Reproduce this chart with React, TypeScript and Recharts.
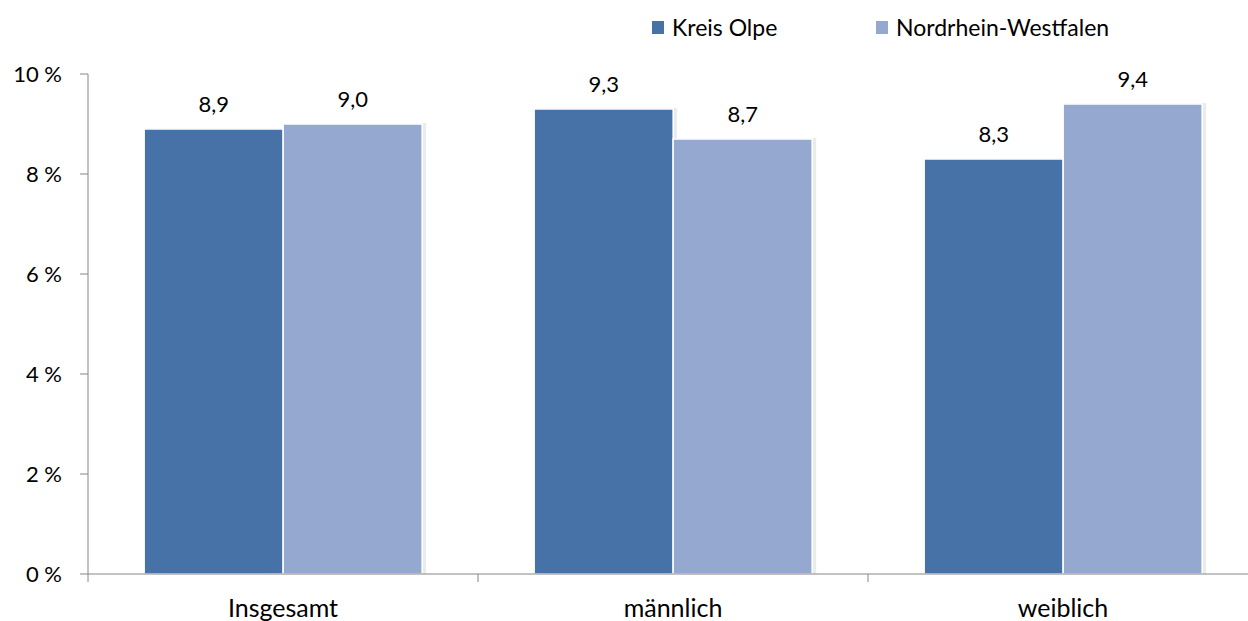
import React from 'react';
import { BarChart, Bar, XAxis, YAxis, Legend, LabelList } from 'recharts';

const categories = ['Insgesamt', 'männlich', 'weiblich'];
const kreisOlpe = [8.9, 9.3, 8.3];
const nrw = [9.0, 8.7, 9.4];
const yTicks = [0, 2, 4, 6, 8, 10];

const chartData = categories.map((name, i) => ({
  name,
  'Kreis Olpe': kreisOlpe[i],
  'Nordrhein-Westfalen': nrw[i],
}));

const FONT = 'Lato, "Open Sans", sans-serif';
const AXIS_GREY = '#868686';
const HALF_BAND = 195; // tick marks sit between the categories, not under them

const ShadowBar = (props: any) => {
  const { x, y, width, height, fill } = props;
  if (!height || height <= 0) return null;
  return (
    <g>
      <rect x={x + 1} y={y - 1} width={width + 3} height={height + 1} fill="#000" opacity={0.08} />
      <rect x={x} y={y} width={width} height={height} fill={fill} stroke="#fff" strokeWidth={1.5} />
    </g>
  );
};

const CategoryTick = (props: any) => {
  const { x, y, payload } = props;
  const lx = x - HALF_BAND;
  return (
    <g>
      <line x1={lx} x2={lx} y1={y - 25} y2={y - 17} stroke={AXIS_GREY} />
      <text x={x} y={y} dy="0.71em" textAnchor="middle" fill="#000" fontSize={25} fontFamily={FONT}>
        {payload.value}
      </text>
    </g>
  );
};

const LegendContent = (props: any) => {
  const { payload } = props;
  const positions = [652, 876];
  return (
    <div style={{ position: 'relative', height: 40 }}>
      {(payload || []).map((entry: any, i: number) => (
        <div
          key={entry.value}
          style={{
            position: 'absolute',
            left: positions[i],
            top: 13,
            display: 'flex',
            alignItems: 'center',
            fontFamily: FONT,
            fontSize: 23,
            color: '#000',
            whiteSpace: 'nowrap',
          }}
        >
          <span style={{ display: 'inline-block', width: 12, height: 13, background: entry.color, marginRight: 8 }} />
          {entry.value}
        </div>
      ))}
    </div>
  );
};

const fmt = (v: any) => Number(v).toFixed(1).replace('.', ',');

export default function App() {
  return (
    <div style={{ position: 'absolute', left: 0, top: 0, width: 1248, height: 621, overflow: 'hidden', background: '#fff' }}>
      <BarChart
        width={1270}
        height={621}
        data={chartData}
        margin={{ top: 34, right: 12, left: 0, bottom: 0 }}
        barCategoryGap="14.4%"
        barGap={0}
      >
        <XAxis
          dataKey="name"
          axisLine={{ stroke: AXIS_GREY }}
          tickLine={false}
          tickSize={8}
          tickMargin={17}
          interval={0}
          tick={<CategoryTick />}
          height={47}
        />
        <YAxis
          domain={[0, 10]}
          ticks={yTicks}
          width={88}
          axisLine={{ stroke: AXIS_GREY }}
          tickLine={{ stroke: AXIS_GREY }}
          tickSize={8}
          tickMargin={18}
          tick={{ fill: '#000', fontSize: 22, fontFamily: FONT }}
          tickFormatter={(v) => `${v} %`}
        />
        <Legend verticalAlign="top" wrapperStyle={{ top: 0, left: 0 }} content={<LegendContent />} />
        <Bar dataKey="Kreis Olpe" fill="#4672a7" shape={<ShadowBar />} isAnimationActive={false}>
          <LabelList
            dataKey="Kreis Olpe"
            position="top"
            offset={17}
            formatter={fmt}
            style={{ fill: '#000', fontSize: 22, fontFamily: FONT }}
          />
        </Bar>
        <Bar dataKey="Nordrhein-Westfalen" fill="#95a8d0" shape={<ShadowBar />} isAnimationActive={false}>
          <LabelList
            dataKey="Nordrhein-Westfalen"
            position="top"
            offset={17}
            formatter={fmt}
            style={{ fill: '#000', fontSize: 22, fontFamily: FONT }}
          />
        </Bar>
      </BarChart>
    </div>
  );
}
